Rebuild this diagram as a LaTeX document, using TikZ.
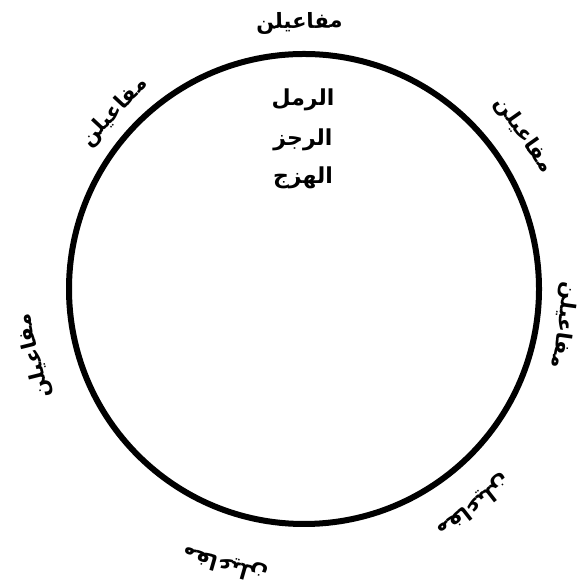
\documentclass[tikz,border=0pt]{standalone}
\usepackage{fontspec}
\newfontfamily\arabicfont[Script=Arabic]{DejaVu Sans}
\TeXXeTstate=1
\usetikzlibrary{positioning, calc}

\begin{document}
\begin{tikzpicture}[x=1pt, y=1pt,
    ring/.style={circle, draw=black, line width=6pt, inner sep=0pt},
    wazn/.style={font=\arabicfont\bfseries\fontsize{21}{24}\selectfont, inner sep=1pt},
    bahr/.style={font=\arabicfont\bfseries\fontsize{22}{24}\selectfont, inner sep=1pt, anchor=base},
  ]
  \useasboundingbox (0,0) rectangle (584,585);
  % the circle
  \coordinate (c) at (304,296);
  \node[ring, minimum size=470pt] (dair) at (c) {};

  % feet round the circle
  \foreach \ang/\rad [count=\i] in {91/266, 137/259, 35/268, -8/262, 194/278, -52/275, -106/286}
    \node[wazn, rotate=\ang-90] (taf\i) at ($(c)+(\ang:\rad)$) {\beginR مفاعيلن\endR};

  % names inside
  \node[bahr] (ramal) at (303,479) {\beginR الرمل\endR};
  \node[bahr] (rajaz) at ([yshift=-40pt]ramal.base) {\beginR الرجز\endR};
  \node[bahr] (hazaj) at ([yshift=-38pt]rajaz.base) {\beginR الهزج\endR};
\end{tikzpicture}
\end{document}
